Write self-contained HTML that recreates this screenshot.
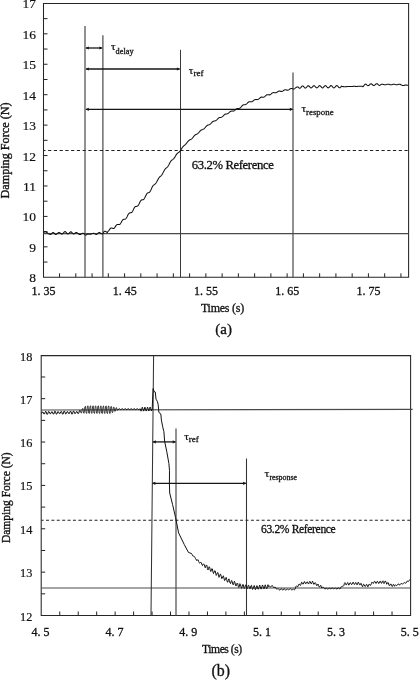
<!DOCTYPE html>
<html><head><meta charset="utf-8"><title>Damping force response</title>
<style>html,body{margin:0;padding:0;background:#fff;}body{width:419px;height:680px;overflow:hidden;}svg{display:block;filter:grayscale(1);}</style>
</head><body>
<svg width="419" height="680" viewBox="0 0 419 680"><rect width="419" height="680" fill="#fff"/><path d="M43.5,262.05h4M43.5,246.84h4M43.5,231.62h4M43.5,216.41h4M43.5,201.19h4M43.5,185.98h4M43.5,170.77h4M43.5,155.55h4M43.5,140.34h4M43.5,125.12h4M43.5,109.91h4M43.5,94.69h4M43.5,79.48h4M43.5,64.26h4M43.5,49.04h4M43.5,33.83h4M43.5,18.61h4M59.56,277.3v-4M75.81,277.3v-4M92.07,277.3v-4M108.32,277.3v-4M124.58,277.3v-4M140.84,277.3v-4M157.09,277.3v-4M173.35,277.3v-4M189.6,277.3v-4M205.86,277.3v-4M222.12,277.3v-4M238.37,277.3v-4M254.63,277.3v-4M270.88,277.3v-4M287.14,277.3v-4M303.4,277.3v-4M319.65,277.3v-4M335.91,277.3v-4M352.16,277.3v-4M368.42,277.3v-4M384.68,277.3v-4M400.93,277.3v-4" stroke="#222" stroke-width="1" fill="none"/><path d="M43.5,3.5H408.6V277.3H43.5Z" stroke="#262626" stroke-width="1.05" fill="none"/><path d="M43.5,233.7H408.6M85.0,26.1V277.3M102.9,35.2V277.3M293.0,72.6V277.3" stroke="#4a4a4a" stroke-width="1.2" fill="none"/><path d="M180.5,49.8V277.3" stroke="#3a3a3a" stroke-width="1.05" fill="none"/><path d="M43.5,150.4H408.6" stroke="#222" stroke-width="1.05" stroke-dasharray="3.2 2.548" stroke-dashoffset="1.15" fill="none"/><path d="M86.2,48H101.9" stroke="#161616" stroke-width="1.3" fill="none"/><path d="M102.7,48l-3.4,-1.6v3.2z" fill="#161616"/><path d="M85.4,48l3.4,-1.6v3.2z" fill="#161616"/><path d="M86.2,69H179.5" stroke="#161616" stroke-width="1.3" fill="none"/><path d="M180.3,69l-3.4,-1.6v3.2z" fill="#161616"/><path d="M85.4,69l3.4,-1.6v3.2z" fill="#161616"/><path d="M86.2,109.3H292.4" stroke="#161616" stroke-width="1.3" fill="none"/><path d="M293.2,109.3l-3.4,-1.6v3.2z" fill="#161616"/><path d="M85.4,109.3l3.4,-1.6v3.2z" fill="#161616"/><path d="M43.5,232.6 L44.2,232.15 L44.9,231.7 L45.4,231.75 L45.9,231.91 L46.4,232.17 L46.9,232.49 L47.4,232.86 L47.9,233.24 L48.4,233.61 L48.9,233.93 L49.4,234.19 L49.9,234.35 L50.4,234.4 L50.94,234.23 L51.48,233.78 L52.02,233.22 L52.56,232.77 L53.1,232.6 L53.64,232.77 L54.18,233.22 L54.72,233.78 L55.26,234.23 L55.8,234.4 L56.35,234.27 L56.9,233.93 L57.45,233.45 L58,232.97 L58.55,232.63 L59.1,232.5 L59.68,232.65 L60.26,233.05 L60.84,233.55 L61.42,233.95 L62,234.1 L62.5,233.93 L63,233.47 L63.5,232.85 L64,232.22 L64.5,231.77 L65,231.6 L65.58,231.83 L66.16,232.43 L66.74,233.17 L67.32,233.77 L67.9,234 L68.48,233.79 L69.06,233.24 L69.64,232.56 L70.22,232.01 L70.8,231.8 L71.38,232 L71.96,232.53 L72.54,233.17 L73.12,233.7 L73.7,233.9 L74.22,233.77 L74.74,233.42 L75.26,232.98 L75.78,232.63 L76.3,232.5 L76.83,232.6 L77.36,232.9 L77.89,233.32 L78.41,233.78 L78.94,234.2 L79.47,234.5 L80,234.6 L80.58,234.47 L81.16,234.12 L81.74,233.68 L82.32,233.33 L82.9,233.2 L83.4,233.33 L83.9,233.67 L84.4,234.15 L84.9,234.62 L85.4,234.97 L85.9,235.1 L86.53,234.82 L87.17,234.28 L87.8,234 L88.4,234.07 L89,234.22 L89.6,234.3 L90.12,234.26 L90.65,234.15 L91.17,233.99 L91.7,233.8 L92.22,233.61 L92.75,233.45 L93.27,233.34 L93.8,233.3 L94.3,233.41 L94.8,233.68 L95.3,234.02 L95.8,234.29 L96.3,234.4 L96.88,234.22 L97.46,233.74 L98.04,233.16 L98.62,232.68 L99.2,232.5 L99.7,232.6 L100.2,232.88 L100.7,233.25 L101.2,233.62 L101.7,233.9 L102.2,234 L102.7,233.73 L103.2,233.03 L103.7,232.17 L104.2,231.47 L104.7,231.2 L105.23,231.29 L105.77,231.55 L106.3,231.9 L106.83,232.25 L107.37,232.51 L108,231.33 L108.5,230.94 L109,230.32 L109.5,229.6 L110,228.91 L110.5,228.37 L111,228.03 L111.5,227.94 L112,228.05 L112.5,228.28 L113,228.48 L113.5,228.52 L114,228.32 L114.5,227.85 L115,227.16 L115.5,226.36 L116,225.6 L116.5,224.98 L117,224.62 L117.5,224.44 L118,224.43 L118.5,224.53 L119,224.6 L119.5,224.52 L120,224.19 L120.5,223.59 L121,222.77 L121.5,221.85 L122,220.95 L122.5,220.22 L123,219.7 L123.5,219.36 L124,219.24 L124.5,219.22 L125,219.18 L125.5,218.98 L126,218.53 L126.5,217.82 L127,216.89 L127.5,215.85 L128,214.84 L128.5,213.99 L129,213.37 L129.5,213.01 L130,212.87 L130.5,212.84 L131,212.78 L131.5,212.56 L132,212.1 L132.5,211.37 L133,210.43 L133.5,209.37 L134,208.35 L134.5,207.48 L135,206.87 L135.5,206.52 L136,206.4 L136.5,206.38 L137,206.33 L137.5,206.13 L138,205.68 L138.5,204.96 L139,204.03 L139.5,202.98 L140,201.94 L140.5,201.05 L141,200.41 L141.5,200.03 L142,199.87 L142.5,199.82 L143,199.74 L143.5,199.5 L144,199.02 L144.5,198.27 L145,197.31 L145.5,196.23 L146,195.16 L146.5,194.19 L147,193.47 L147.5,193.02 L148,192.79 L148.5,192.66 L149,192.51 L149.5,192.19 L150,191.64 L150.5,190.81 L151,189.77 L151.5,188.62 L152,187.46 L152.5,186.44 L153,185.67 L153.5,185.16 L154,184.87 L154.5,184.69 L155,184.21 L155.5,183.7 L156,183.05 L156.5,182.25 L157,181.34 L157.5,180.36 L158,179.39 L158.5,178.5 L159,177.75 L159.5,177.14 L160,176.66 L160.5,176.23 L161,175.79 L161.5,175.26 L162,174.6 L162.5,173.79 L163,172.86 L163.5,171.87 L164,170.9 L164.5,170.02 L165,169.28 L165.5,168.69 L166,168.22 L166.5,167.8 L167,167.37 L167.5,166.86 L168,166.21 L168.5,165.41 L169,164.5 L169.5,163.52 L170,162.56 L170.5,161.69 L171,160.95 L171.5,160.36 L172,159.98 L172.5,159.67 L173,159.34 L173.5,158.92 L174,158.37 L174.5,157.67 L175,156.86 L175.5,155.98 L176,155.12 L176.5,154.34 L177,153.7 L177.5,153.21 L178,152.83 L178.5,152.52 L179,152.19 L179.5,151.77 L180,151.12 L180.5,150.44 L181,149.65 L181.5,148.82 L182,147.99 L182.5,147.24 L183,146.6 L183.5,146.07 L184,145.65 L184.5,145.27 L185,144.88 L185.5,144.42 L186,143.85 L186.5,143.32 L187,142.7 L187.5,142.03 L188,141.37 L188.5,140.79 L189,140.31 L189.5,139.95 L190,139.69 L190.5,139.48 L191,139.26 L191.5,138.96 L192,138.56 L192.5,138.04 L193,137.42 L193.5,136.75 L194,136.1 L194.5,135.51 L195,135.04 L195.5,134.69 L196,134.43 L196.5,134.22 L197,134.03 L197.5,133.79 L198,133.44 L198.5,132.96 L199,132.39 L199.5,131.78 L200,131.17 L200.5,130.63 L201,130.21 L201.5,129.9 L202,129.69 L202.5,129.54 L203,129.36 L203.5,129.12 L204,128.77 L204.5,128.31 L205,127.74 L205.5,127.13 L206,126.53 L206.5,126.01 L207,125.59 L207.5,125.29 L208,125.09 L208.5,124.94 L209,124.77 L209.5,124.54 L210,124.22 L210.5,123.82 L211,123.32 L211.5,122.78 L212,122.24 L212.5,121.78 L213,121.43 L213.5,121.19 L214,121.06 L214.5,120.97 L215,120.87 L215.5,120.7 L216,120.43 L216.5,120.06 L217,119.58 L217.5,119.06 L218,118.55 L218.5,118.11 L219,117.79 L219.5,117.58 L220,117.47 L220.5,117.41 L221,117.33 L221.5,117.19 L222,116.93 L222.5,116.56 L223,116.09 L223.5,115.57 L224,115.07 L224.5,114.63 L225,114.3 L225.5,114.1 L226,113.99 L226.5,113.93 L227,113.86 L227.5,113.72 L228,113.47 L228.5,113.1 L229,112.64 L229.5,112.21 L230,111.78 L230.5,111.43 L231,111.19 L231.5,111.07 L232,111.02 L232.5,111.07 L233,111.11 L233.5,111.07 L234,110.9 L234.5,110.6 L235,110.19 L235.5,109.72 L236,109.26 L236.5,108.89 L237,108.63 L237.5,108.51 L238,108.5 L238.5,108.54 L239,108.49 L239.5,108.3 L240,108 L240.5,107.56 L241,107.02 L241.5,106.41 L242,105.83 L242.5,105.32 L243,104.95 L243.5,104.78 L244,104.71 L244.5,104.7 L245,104.67 L245.5,104.57 L246,104.34 L246.5,103.98 L247,103.52 L247.5,102.99 L248,102.49 L248.5,102.06 L249,101.77 L249.5,101.68 L250,101.71 L250.5,101.78 L251,101.85 L251.5,101.83 L252,101.69 L252.5,101.42 L253,101.04 L253.5,100.61 L254,100.19 L254.5,99.85 L255,99.62 L255.5,99.52 L256,99.52 L256.5,99.57 L257,99.61 L257.5,99.58 L258,99.42 L258.5,99.12 L259,98.72 L259.5,98.27 L260,97.83 L260.5,97.46 L261,97.22 L261.5,97.12 L262,97.12 L262.5,97.17 L263,97.21 L263.5,97.18 L264,97.02 L264.5,96.72 L265,96.32 L265.5,95.87 L266,95.43 L266.5,95.06 L267,94.83 L267.5,94.74 L268,94.76 L268.5,94.83 L269,94.89 L269.5,94.87 L270,94.73 L270.5,94.46 L271,94.08 L271.5,93.64 L272,93.22 L272.5,92.87 L273,92.65 L273.5,92.56 L274,92.58 L274.5,92.65 L275,92.78 L275.5,92.82 L276,92.75 L276.5,92.54 L277,92.22 L277.5,91.85 L278,91.49 L278.5,91.21 L279,91.05 L279.5,91.03 L280,91.11 L280.5,91.25 L281,91.39 L281.5,91.45 L282,91.38 L282.5,91.19 L283,90.88 L283.5,90.52 L284,90.18 L284.5,89.91 L285,89.77 L285.5,89.75 L286,89.85 L286.5,90 L287,90.14 L287.5,90.2 L288,90.13 L288.5,89.94 L289,89.63 L289.5,89.27 L290,88.93 L290.5,88.66 L291,88.52 L291.5,88.51 L292,88.61 L292.5,88.76 L293,88.9 L293.5,88.96 L294,88.9 L294.5,88.67 L295,88.33 L295.5,87.94 L296,87.56 L296.5,87.26 L297,87.09 L297.5,87.06 L298,86.93 L298.5,87.44 L299,87.98 L299.5,88.28 L300,88.24 L300.5,87.89 L301,87.31 L301.5,86.67 L302,86.15 L302.5,85.91 L303,86.01 L303.5,86.42 L304,87 L304.5,87.59 L305,88 L305.5,88.1 L306,87.87 L306.5,87.36 L307,86.72 L307.5,86.14 L308,85.77 L308.5,85.74 L309,86.03 L309.5,86.56 L310,87.17 L310.5,87.68 L311,87.94 L311.5,87.85 L312,87.45 L312.5,86.86 L313,86.25 L313.5,85.8 L314,85.64 L314.5,85.82 L315,86.29 L315.5,86.9 L316,87.48 L316.5,87.85 L317,87.91 L317.5,87.63 L318,87.09 L318.5,86.47 L319,85.93 L319.5,85.64 L320,85.69 L320.5,86.06 L321,86.63 L321.5,87.25 L322,87.72 L322.5,87.91 L323,87.76 L323.5,87.31 L324,86.7 L324.5,86.1 L325,85.7 L325.5,85.61 L326,85.86 L326.5,86.37 L327,86.99 L327.5,87.54 L328,87.86 L328.5,87.84 L329,87.5 L329.5,86.93 L330,86.31 L330.5,85.81 L331,85.59 L331.5,85.7 L332,86.12 L332.5,86.72 L333,87.32 L333.5,87.75 L334,87.87 L334.5,87.65 L335,87.16 L335.5,86.54 L336,85.97 L336.5,85.62 L337,85.6 L337.5,85.91 L338,86.45 L338.5,87.08 L339,87.59 L339.5,87.85 L340,87.76 L340.5,87.37 L341,86.77 L341.5,86.16 L342,86.61 L342.5,86.59 L343,86.59 L343.5,86.62 L344,86.66 L344.5,86.7 L345,86.72 L345.5,86.71 L346,86.68 L346.5,86.62 L347,86.55 L347.5,86.49 L348,86.46 L348.5,86.45 L349,86.47 L349.5,86.51 L350,86.55 L350.5,86.58 L351,86.58 L351.5,86.56 L352,86.5 L352.5,86.44 L353,86.38 L353.5,86.33 L354,86.31 L354.5,86.32 L355,86.35 L355.5,86.39 L356,86.43 L356.5,86.44 L357,86.43 L357.5,86.39 L358,86.33 L358.5,86.26 L359,86.21 L359.5,86.17 L360,86.17 L360.5,86.2 L361,86.24 L361.5,86.28 L362,86.3 L362.5,86.3 L363,86.73 L363.5,86.14 L364,85.46 L364.5,84.81 L365,84.34 L365.5,84.13 L366,84.17 L366.5,84.59 L367,85.07 L367.5,85.46 L368,85.65 L368.5,85.57 L369,85.25 L369.5,84.78 L370,84.29 L370.5,83.93 L371,83.79 L371.5,83.93 L372,84.28 L372.5,84.75 L373,85.2 L373.5,85.48 L374,85.51 L374.5,85.28 L375,84.86 L375.5,84.36 L376,83.93 L376.5,83.69 L377,83.72 L377.5,84 L378,84.44 L378.5,84.91 L379,85.27 L379.5,85.41 L380,85.28 L380.5,84.93 L381,84.48 L381.5,84.3 L382,84.18 L382.5,84.15 L383,84.23 L383.5,84.38 L384,84.57 L384.5,84.74 L385,84.84 L385.5,84.83 L386,84.73 L386.5,84.56 L387,84.37 L387.5,84.22 L388,84.15 L388.5,84.19 L389,84.32 L389.5,84.5 L390,84.68 L390.5,84.81 L391,84.85 L391.5,84.78 L392,84.63 L392.5,84.44 L393,84.27 L393.5,84.17 L394,84.16 L394.5,84.25 L395,84.42 L395.5,84.61 L396,84.77 L396.5,84.85 L397,84.82 L397.5,84.7 L398,84.52 L398.5,84.34 L399,84.2 L399.5,84.15 L400,84.21 L400.5,84.49 L401,84.81 L401.5,85.1 L402,85.33 L402.5,85.48 L403,85.55 L403.5,85.55 L404,85.52 L404.5,85.29 L405,85.12 L405.5,85.05 L406,85.05 L406.5,85.11 L407,85.18 L407.5,85.21 L408,85.17" stroke="#111" stroke-width="1.05" fill="none" stroke-linejoin="round"/><text x="36" y="282.27" font-size="13.5" text-anchor="end" font-family='"Liberation Serif", serif' fill="#111" stroke="#111" stroke-width="0.18">8</text><text x="36" y="251.84" font-size="13.5" text-anchor="end" font-family='"Liberation Serif", serif' fill="#111" stroke="#111" stroke-width="0.18">9</text><text x="36" y="221.41" font-size="13.5" text-anchor="end" font-family='"Liberation Serif", serif' fill="#111" stroke="#111" stroke-width="0.18">10</text><text x="36" y="190.98" font-size="13.5" text-anchor="end" font-family='"Liberation Serif", serif' fill="#111" stroke="#111" stroke-width="0.18">11</text><text x="36" y="160.55" font-size="13.5" text-anchor="end" font-family='"Liberation Serif", serif' fill="#111" stroke="#111" stroke-width="0.18">12</text><text x="36" y="130.12" font-size="13.5" text-anchor="end" font-family='"Liberation Serif", serif' fill="#111" stroke="#111" stroke-width="0.18">13</text><text x="36" y="99.69" font-size="13.5" text-anchor="end" font-family='"Liberation Serif", serif' fill="#111" stroke="#111" stroke-width="0.18">14</text><text x="36" y="69.26" font-size="13.5" text-anchor="end" font-family='"Liberation Serif", serif' fill="#111" stroke="#111" stroke-width="0.18">15</text><text x="36" y="38.83" font-size="13.5" text-anchor="end" font-family='"Liberation Serif", serif' fill="#111" stroke="#111" stroke-width="0.18">16</text><text x="36" y="8.4" font-size="13.5" text-anchor="end" font-family='"Liberation Serif", serif' fill="#111" stroke="#111" stroke-width="0.18">17</text><text x="43.4" y="294.6" font-size="12" text-anchor="middle" font-family='"Liberation Serif", serif' fill="#111" stroke="#111" stroke-width="0.3">1. 35</text><text x="124.68" y="294.6" font-size="12" text-anchor="middle" font-family='"Liberation Serif", serif' fill="#111" stroke="#111" stroke-width="0.3">1. 45</text><text x="205.96" y="294.6" font-size="12" text-anchor="middle" font-family='"Liberation Serif", serif' fill="#111" stroke="#111" stroke-width="0.3">1. 55</text><text x="287.24" y="294.6" font-size="12" text-anchor="middle" font-family='"Liberation Serif", serif' fill="#111" stroke="#111" stroke-width="0.3">1. 65</text><text x="368.52" y="294.6" font-size="12" text-anchor="middle" font-family='"Liberation Serif", serif' fill="#111" stroke="#111" stroke-width="0.3">1. 75</text><text x="222.4" y="311.5" font-size="12" text-anchor="middle" letter-spacing="-0.25" font-family='"Liberation Serif", serif' fill="#111" stroke="#111" stroke-width="0.3">Times (s)</text><text x="223.6" y="334.2" font-size="15" text-anchor="middle" font-family='"Liberation Serif", serif' fill="#111" stroke="#111" stroke-width="0.3">(a)</text><text transform="translate(9.3,150.5) rotate(-90)" font-size="12.2" text-anchor="middle" font-family='"Liberation Serif", serif' fill="#111" stroke="#111" stroke-width="0.35">Damping Force (N)</text><text x="232.6" y="168.8" font-size="12.7" text-anchor="middle" letter-spacing="-0.38" font-family='"Liberation Serif", serif' fill="#111" stroke="#111" stroke-width="0.3">63.2% Reference</text><text transform="translate(111,50.4) scale(1,0.85)" font-size="11.5" font-family='"Liberation Serif", serif' fill="#111" stroke="#111" stroke-width="0.28">&#964;</text><text x="115.62" y="53.6" font-size="8.3" font-family='"Liberation Serif", serif' fill="#111" stroke="#111" stroke-width="0.28">delay</text><text transform="translate(188.8,73.6) scale(1,0.85)" font-size="11.5" font-family='"Liberation Serif", serif' fill="#111" stroke="#111" stroke-width="0.28">&#964;</text><text x="193.42" y="75.8" font-size="9.0" font-family='"Liberation Serif", serif' fill="#111" stroke="#111" stroke-width="0.28">ref</text><text transform="translate(301.4,112) scale(1,0.85)" font-size="11.5" font-family='"Liberation Serif", serif' fill="#111" stroke="#111" stroke-width="0.28">&#964;</text><text x="306.02" y="115.4" font-size="8.9" font-family='"Liberation Serif", serif' fill="#111" stroke="#111" stroke-width="0.28">respone</text><path d="M41.2,593.84h4M41.2,572.15h4M41.2,550.47h4M41.2,528.78h4M41.2,507.1h4M41.2,485.41h4M41.2,463.73h4M41.2,442.04h4M41.2,420.36h4M41.2,398.67h4M41.2,376.99h4M59.76,615.5v-4M78.22,615.5v-4M96.68,615.5v-4M115.14,615.5v-4M133.6,615.5v-4M152.06,615.5v-4M170.52,615.5v-4M188.98,615.5v-4M207.44,615.5v-4M225.9,615.5v-4M244.36,615.5v-4M262.82,615.5v-4M281.28,615.5v-4M299.74,615.5v-4M318.2,615.5v-4M336.66,615.5v-4M355.12,615.5v-4M373.58,615.5v-4M392.04,615.5v-4" stroke="#222" stroke-width="1" fill="none"/><path d="M41.2,355.6H410.6V615.5H41.2Z" stroke="#262626" stroke-width="1.05" fill="none"/><path d="M41.2,410.0L412.7,409.4M41.2,588.0H410.6M176.0,428.6V615.5" stroke="#4a4a4a" stroke-width="1.2" fill="none"/><path d="M153.6,355.3L151.0,615.5M246.5,458.5V615.5" stroke="#333" stroke-width="1.05" fill="none"/><path d="M41.2,520.3H410.6" stroke="#222" stroke-width="1.05" stroke-dasharray="3.0 2.392" stroke-dashoffset="0.6" fill="none"/><path d="M153.2,441.9H175.3" stroke="#161616" stroke-width="1.3" fill="none"/><path d="M176.1,441.9l-3.4,-1.6v3.2z" fill="#161616"/><path d="M152.4,441.9l3.4,-1.6v3.2z" fill="#161616"/><path d="M152.7,483.3H245.7" stroke="#161616" stroke-width="1.3" fill="none"/><path d="M246.5,483.3l-3.4,-1.6v3.2z" fill="#161616"/><path d="M151.9,483.3l3.4,-1.6v3.2z" fill="#161616"/><path d="M41.5,413.74 L42.27,411.98 L43.05,412.08 L43.82,413.93 L44.6,413.91 L45.37,411.47 L46.15,411.57 L46.92,414.35 L47.7,414.07 L48.47,411.53 L49.25,411.85 L50.02,413.78 L50.8,413.58 L51.57,411.85 L52.35,411.87 L53.12,414 L53.9,413.96 L54.67,411.26 L55.45,411.45 L56.22,414.17 L57,413.83 L57.77,411.61 L58.55,411.88 L59.32,413.62 L60.1,413.51 L60.87,411.62 L61.65,411.62 L62.42,414.07 L63.2,413.95 L63.97,411.14 L64.75,411.42 L65.52,413.91 L66.3,413.58 L67.07,411.65 L67.85,411.83 L68.62,413.55 L69.4,413.52 L70.17,411.34 L70.95,411.37 L71.73,414.07 L72.5,413.86 L73.28,411.13 L74.05,411.45 L74.83,413.63 L75.6,413.35 L76.38,411.61 L77.15,411.69 L77.93,413.58 L78.7,413.32 L79.48,410.56 L80.25,410.45" stroke="#111" stroke-width="1.0" fill="none" stroke-linejoin="round"/><path d="M80.25,410.45 L80.9,412.8 L81.55,413.03 L82.2,409.11 L82.85,408.34 L83.5,412.89 L84.15,413.26 L84.8,407.13 L85.45,406.23 L86.1,412.98 L86.75,413.42 L87.4,406.23 L88.05,405.8 L88.7,413 L89.35,413.44 L90,406.25 L90.65,405.82 L91.3,413.02 L91.95,413.46 L92.6,406.27 L93.25,405.84 L93.9,413.04 L94.55,413.48 L95.2,406.29 L95.85,405.86 L96.5,413.06 L97.15,413.5 L97.8,406.31 L98.45,405.88 L99.1,413.08 L99.75,413.52 L100.4,406.33 L101.05,405.9 L101.7,413.1 L102.35,413.54 L103,406.35 L103.65,405.92 L104.3,413.12 L104.95,413.56 L105.6,406.37 L106.25,405.94 L106.9,413.14 L107.55,413.58 L108.2,406.39 L108.85,405.96 L109.5,413.16 L110.15,413.55 L110.8,406.67 L111.45,406.51 L112.1,412.49 L112.75,412.5 L113.4,407.31 L114.05,407.15 L114.7,411.26 L115.35,411.16 L116,407.76 L116.65,407.81 L117.3,410.22 L117.95,410.12" stroke="#1a1a1a" stroke-width="0.8" fill="none" stroke-linejoin="round"/><path d="M117.95,410.12 L118.6,409.1 L119.35,408.71 L120.1,409.3 L120.85,409.69 L121.6,409.1 L122.35,408.71 L123.1,409.3 L123.85,409.69 L124.6,409.1 L125.35,408.71 L126.1,409.3 L126.85,409.69 L127.6,409.1 L128.35,408.71 L129.1,409.3 L129.85,409.69 L130.6,409.1 L131.35,408.71 L132.1,409.3 L132.85,409.69 L133.6,409.1 L134.35,408.71 L135.1,409.3 L135.85,409.69 L136.6,409.1 L137.35,408.71 L138.1,409.3 L138.85,409.69 L139.6,409.1 L140.35,408.95 L141,411.17 L141.65,409.41 L142.3,407.18 L142.95,408.91 L143.6,411.13 L144.25,409.37 L144.9,407.13 L145.55,408.87 L146.2,411.08 L146.85,409.33 L147.5,407.09 L148.15,408.82 L148.8,411.04 L149.45,409.28 L150.1,407.05 L150.75,408.78 L151.4,411 L152,409 L152.2,409.6 L152.6,399.1 L153.1,388.6 L154.1,391.5 L155.3,392 L156,399.1 L157.4,401.5 L158.2,404.8 L158.9,412.5 L160.8,413.9 L161.4,420.1 L162.7,426.8 L163.9,431.6 L164.6,441.1 L166.8,451.8 L168.9,463.5 L169.5,470.6 L169.4,483.5 L169.7,493 L172.6,504.7 L175.6,517.6 L178.6,532.9 L184.3,544.6 L188.5,552.5 L191.5,553.49 L192.05,554.46 L192.6,555.77 L193.15,555.87 L193.7,556.2 L194.25,556.38 L194.8,557.08 L195.35,558.48 L195.9,558.92 L196.45,560.28 L197,560.57 L197.55,559.84 L198.1,559.82 L198.65,561.43 L199.2,562.71 L199.75,563.21 L200.3,562.54 L200.85,562.17 L201.4,562.98 L201.95,564.61 L202.5,565.55 L203.05,564.14 L203.6,563.96 L204.15,564.51 L204.7,566.18 L205.25,567.76 L205.8,566.26 L206.35,564.94 L206.9,565.6 L207.45,568.63 L208,569.96 L208.55,568.35 L209.1,566.7 L209.65,567.18 L210.2,569.94 L210.75,571.56 L211.3,570.59 L211.85,568.56 L212.4,568.99 L212.95,571.86 L213.5,573.55 L214.05,572.41 L214.6,570.74 L215.15,570.91 L215.7,573.25 L216.25,575.41 L216.8,574.55 L217.35,572.71 L217.9,572.56 L218.45,574.77 L219,577.34 L219.55,576.24 L220.1,574.33 L220.65,574.21 L221.2,576.17 L221.75,578.7 L222.3,578.1 L222.85,576.4 L223.4,575.87 L223.95,577.91 L224.5,580.56 L225.05,580.16 L225.6,578.34 L226.15,577.45 L226.7,579.4 L227.25,581.92 L227.8,582.28 L228.35,580.27 L228.9,578.84 L229.45,580.61 L230,582.85 L230.55,583.63 L231.1,581.61 L231.65,580.45 L232.2,581.78 L232.75,584.11 L233.3,584.84 L233.85,583.14 L234.4,581.2 L234.95,582.65 L235.5,585.16 L236.05,586.06 L236.6,584.3 L237.15,583 L237.7,583.55 L238.25,586.31 L238.8,587.58 L239.35,586.15 L239.9,583.64 L240.45,584.35 L241,586.9 L241.55,588.36 L242.1,586.8 L242.65,584.67 L243.2,584.54 L243.75,587.05 L244.3,588.51 L244.85,587.51 L245.4,585.31 L245.95,584.78 L246.5,587.13 L247.05,588.87 L247.6,587.77 L248.15,585.56 L248.7,585.25 L249.25,587.22 L249.8,588.92 L250.35,588.27 L250.9,585.86 L251.45,585.34 L252,587.59 L252.55,589.46 L253.1,588.72 L253.65,586.39 L254.2,585.53 L254.75,587.01 L255.3,589.68 L255.85,589.24 L256.4,586.9 L256.95,585.65 L257.5,587 L258.05,589.23 L258.6,588.89 L259.15,586.85 L259.7,585.07 L260.25,586.46 L260.8,588.85 L261.35,588.94 L261.9,586.77 L262.45,584.96 L263,586.08 L263.55,588.54 L264.1,588.89 L264.65,586.9 L265.2,584.84 L265.75,586.2 L266.3,588.39 L266.85,588.71 L267.4,586.71 L267.95,584.7 L268.5,586.62 L269.05,585.85 L269.6,586.31 L270.15,586.95 L270.7,586.96 L271.25,586.6 L271.8,585.63 L272.35,585.56 L272.9,586.45 L273.45,587.29 L274,587.95 L274.55,587.25 L275.1,586.94 L275.65,587.95 L276.2,588.63 L276.75,589.04 L277.3,589.21 L277.85,588.54 L278.4,588.75 L278.95,589.54 L279.5,590.06 L280.05,589.93 L280.6,589.06 L281.15,588.67 L281.7,588.79 L282.25,589.82 L282.8,589.98 L283.35,589.72 L283.9,588.83 L284.45,588.67 L285,589.57 L285.55,590.23 L286.1,590.06 L286.65,589.41 L287.2,589.01 L287.75,589.27 L288.3,589.62 L288.85,590.03 L289.4,589.48 L289.95,588.68 L290.5,588.65 L291.05,589.39 L291.6,589.9 L292.15,589.99 L292.7,589.51 L293.25,588.86 L293.8,589.52 L294.35,589.84 L294.9,589.44 L295.45,588.03 L296,586.46 L296.55,585.75 L297.1,586.49 L297.65,586.87 L298.2,585.88 L298.75,584.37 L299.3,584.04 L299.85,584.9 L300.4,585.49 L300.95,584.36 L301.5,582.32 L302.05,582.54 L302.6,583.8 L303.15,584.15 L303.7,583.08 L304.25,581.66 L304.8,581.8 L305.35,583.59 L305.9,583.79 L306.45,582.91 L307,581.85 L307.55,581.99 L308.1,583.41 L308.65,584.06 L309.2,582.67 L309.75,581.29 L310.3,581.89 L310.85,583.31 L311.4,583.91 L311.95,582.53 L312.5,581.2 L313.05,582.41 L313.6,584.16 L314.15,584.25 L314.7,582.97 L315.25,582.59 L315.8,583.54 L316.35,585.07 L316.9,585.76 L317.45,584.44 L318,584.01 L318.55,585.58 L319.1,586.8 L319.65,587.01 L320.2,585.83 L320.75,585.24 L321.3,586.68 L321.85,588.11 L322.4,587.3 L322.95,587.26 L323.5,587.3 L324.05,588.15 L324.6,588.66 L325.15,589.18 L325.7,588.3 L326.25,588.06 L326.8,588.42 L327.35,589.15 L327.9,588.99 L328.45,588.86 L329,588.11 L329.55,588.15 L330.1,588.65 L330.65,588.72 L331.2,588.78 L331.75,588.07 L332.3,587.71 L332.85,588.52 L333.4,588.66 L333.95,588.92 L334.5,588.61 L335.05,588.04 L335.6,587.98 L336.15,588.62 L336.7,588.97 L337.25,588.86 L337.8,587.9 L338.35,587.97 L338.9,588.16 L339.45,588.68 L340,589 L340.55,587.79 L341.1,586.84 L341.65,586.53 L342.2,586.6 L342.75,586.05 L343.3,586.14 L343.85,585.51 L344.4,583.46 L344.95,582.61 L345.5,583.44 L346.05,584.9 L346.6,584.67 L347.15,583.41 L347.7,582.55 L348.25,583.77 L348.8,585.14 L349.35,584.36 L349.9,582.97 L350.45,582.66 L351,583.82 L351.55,584.63 L352.1,584.08 L352.65,582.7 L353.2,582.11 L353.75,583.54 L354.3,584.55 L354.85,584.2 L355.4,582.72 L355.95,582.6 L356.5,583.56 L357.05,584.88 L357.6,583.98 L358.15,582.17 L358.7,582.6 L359.25,584.26 L359.8,584.95 L360.35,584.68 L360.9,583.21 L361.45,583.73 L362,585.85 L362.55,586.74 L363.1,585.45 L363.65,584.28 L364.2,584.69 L364.75,586.15 L365.3,586.6 L365.85,585.44 L366.4,584.44 L366.95,584.56 L367.5,586.44 L368.05,586.74 L368.6,585.15 L369.15,584.1 L369.7,584.53 L370.25,585.55 L370.8,585.02 L371.35,583.71 L371.9,582.16 L372.45,582.68 L373,583.21 L373.55,583.29 L374.1,581.66 L374.65,581.24 L375.2,581.93 L375.75,583.26 L376.3,583.25 L376.85,582 L377.4,581.24 L377.95,582.03 L378.5,583.3 L379.05,583.39 L379.6,581.63 L380.15,581.16 L380.7,582.04 L381.25,583.25 L381.8,583.09 L382.35,581.38 L382.9,580.8 L383.45,582.65 L384,583.59 L384.55,582.99 L385.1,581.02 L385.65,581.29 L386.2,582.38 L386.75,584.24 L387.3,583.53 L387.85,582.36 L388.4,582.87 L388.95,584.97 L389.5,585.81 L390.05,585.09 L390.6,584.01 L391.15,584.13 L391.7,585.69 L392.25,586.53 L392.8,585.44 L393.35,584.3 L393.9,584.83 L394.45,586.28 L395,585.19 L395.55,584.8 L396.1,585.4 L396.65,585.53 L397.2,585.26 L397.75,584.27 L398.3,583.98 L398.85,584.11 L399.4,585.04 L399.95,584.89 L400.5,583.96 L401.05,583.42 L401.6,583.63 L402.15,583.6 L402.7,584.28 L403.25,583.58 L403.8,582.8 L404.35,582.61 L404.9,582.64 L405.45,583.15 L406,583.13 L406.55,582.35 L407.1,581.08 L407.65,581.17 L408.2,581.37 L408.75,581.31 L409.3,580.44 L409.85,579.38" stroke="#111" stroke-width="1.0" fill="none" stroke-linejoin="round"/><text x="32.3" y="620.52" font-size="12.3" text-anchor="end" font-family='"Liberation Serif", serif' fill="#111" stroke="#111" stroke-width="0.18">12</text><text x="32.3" y="577.15" font-size="12.3" text-anchor="end" font-family='"Liberation Serif", serif' fill="#111" stroke="#111" stroke-width="0.18">13</text><text x="32.3" y="533.78" font-size="12.3" text-anchor="end" font-family='"Liberation Serif", serif' fill="#111" stroke="#111" stroke-width="0.18">14</text><text x="32.3" y="490.41" font-size="12.3" text-anchor="end" font-family='"Liberation Serif", serif' fill="#111" stroke="#111" stroke-width="0.18">15</text><text x="32.3" y="447.04" font-size="12.3" text-anchor="end" font-family='"Liberation Serif", serif' fill="#111" stroke="#111" stroke-width="0.18">16</text><text x="32.3" y="403.67" font-size="12.3" text-anchor="end" font-family='"Liberation Serif", serif' fill="#111" stroke="#111" stroke-width="0.18">17</text><text x="32.3" y="361.3" font-size="12.3" text-anchor="end" font-family='"Liberation Serif", serif' fill="#111" stroke="#111" stroke-width="0.18">18</text><text x="40.6" y="636" font-size="12" text-anchor="middle" font-family='"Liberation Serif", serif' fill="#111" stroke="#111" stroke-width="0.3">4. 5</text><text x="114.44" y="636" font-size="12" text-anchor="middle" font-family='"Liberation Serif", serif' fill="#111" stroke="#111" stroke-width="0.3">4. 7</text><text x="188.28" y="636" font-size="12" text-anchor="middle" font-family='"Liberation Serif", serif' fill="#111" stroke="#111" stroke-width="0.3">4. 9</text><text x="262.12" y="636" font-size="12" text-anchor="middle" font-family='"Liberation Serif", serif' fill="#111" stroke="#111" stroke-width="0.3">5. 1</text><text x="335.96" y="636" font-size="12" text-anchor="middle" font-family='"Liberation Serif", serif' fill="#111" stroke="#111" stroke-width="0.3">5. 3</text><text x="409.8" y="636" font-size="12" text-anchor="middle" font-family='"Liberation Serif", serif' fill="#111" stroke="#111" stroke-width="0.3">5. 5</text><text x="221.9" y="652.5" font-size="11.6" text-anchor="middle" letter-spacing="-0.45" font-family='"Liberation Serif", serif' fill="#111" stroke="#111" stroke-width="0.3">Times (s)</text><text x="220.8" y="675.5" font-size="15.9" text-anchor="middle" font-family='"Liberation Serif", serif' fill="#111" stroke="#111" stroke-width="0.3">(b)</text><text transform="translate(9.8,497.7) rotate(-90)" font-size="11.5" text-anchor="middle" font-family='"Liberation Serif", serif' fill="#111" stroke="#111" stroke-width="0.35">Damping Force (N)</text><text x="298.2" y="532.7" font-size="11.6" text-anchor="middle" letter-spacing="-0.36" font-family='"Liberation Serif", serif' fill="#111" stroke="#111" stroke-width="0.3">63.2% Reference</text><text transform="translate(184.2,439.5) scale(1,0.85)" font-size="11.5" font-family='"Liberation Serif", serif' fill="#111" stroke="#111" stroke-width="0.28">&#964;</text><text x="188.82" y="441.8" font-size="9.0" font-family='"Liberation Serif", serif' fill="#111" stroke="#111" stroke-width="0.28">ref</text><text transform="translate(264.6,477.4) scale(1,0.85)" font-size="12" font-family='"Liberation Serif", serif' fill="#111" stroke="#111" stroke-width="0.28">&#964;</text><text x="269.42" y="479.9" font-size="7.9" font-family='"Liberation Serif", serif' fill="#111" stroke="#111" stroke-width="0.28">response</text></svg>
</body></html>
